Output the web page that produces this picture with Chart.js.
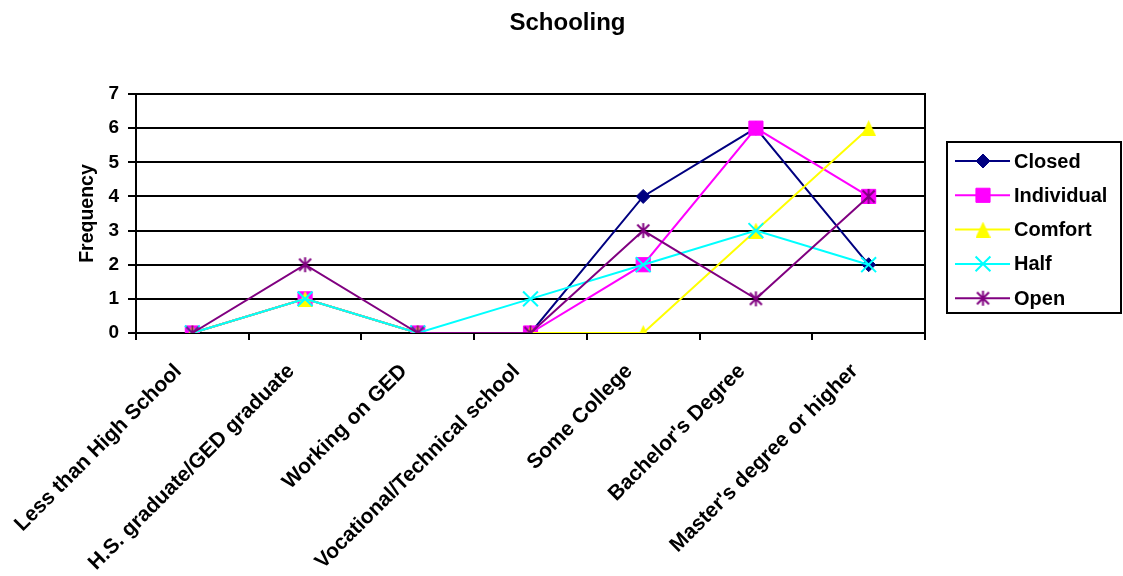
<!DOCTYPE html>
<html>
<head>
<meta charset="utf-8">
<title>Schooling</title>
<script src="https://cdn.jsdelivr.net/npm/chart.js@4/dist/chart.umd.min.js"></script>
<style>
  html, body { margin: 0; padding: 0; background: #fff; }
  canvas { display: block; }
</style>
</head>
<body>
<canvas id="chart" width="1123" height="576"></canvas>
<script>
// Education levels on the x axis
const categories = [
  'Less than High School',
  'H.S. graduate/GED graduate',
  'Working on GED',
  'Vocational/Technical school',
  'Some College',
  "Bachelor's Degree",
  "Master's degree or higher"
];

// Frequencies per group
const closedValues     = [0, 1, 0, 0, 4, 6, 2];
const individualValues = [0, 1, 0, 0, 2, 6, 4];
const comfortValues    = [0, 1, 0, 0, 0, 3, 6];
const halfValues       = [0, 1, 0, 1, 2, 3, 2];
const openValues       = [0, 2, 0, 0, 3, 1, 4];

const seriesNames = ['Closed', 'Individual', 'Comfort', 'Half', 'Open'];
const yTicks = [0, 1, 2, 3, 4, 5, 6, 7];

const FONT = "'Liberation Sans', Arial, sans-serif";

// Six-armed asterisk marker (vertical bar plus an X)
function makeAsterisk(color, size, lw) {
  const c = document.createElement('canvas');
  c.width = size; c.height = size;
  const g = c.getContext('2d');
  const m = size / 2, r = size / 2 - 1;
  const d = r * 0.8;
  g.strokeStyle = color;
  g.lineWidth = lw;
  g.beginPath();
  g.moveTo(m, m - r); g.lineTo(m, m + r);
  g.moveTo(m - d, m - d); g.lineTo(m + d, m + d);
  g.moveTo(m + d, m - d); g.lineTo(m - d, m + d);
  g.stroke();
  return c;
}

// Upright triangle marker, centred in its box
function makeTriangle(color, w, h) {
  const c = document.createElement('canvas');
  c.width = w; c.height = h;
  const g = c.getContext('2d');
  g.fillStyle = color;
  g.beginPath();
  g.moveTo(w / 2, 0);
  g.lineTo(w, h);
  g.lineTo(0, h);
  g.closePath();
  g.fill();
  return c;
}

const asterisk = makeAsterisk('#800080', 17, 2);
const triangle = makeTriangle('#FFFF00', 15, 16);

const styles = [
  { color: '#000080', pointStyle: 'rectRot',  radius: 7,    bw: 1 },
  { color: '#FF00FF', pointStyle: 'rect',     radius: 10,   bw: 1 },
  { color: '#FFFF00', pointStyle: triangle,   radius: 8,    bw: 1 },
  { color: '#00FFFF', pointStyle: 'crossRot', radius: 10.5, bw: 2 },
  { color: '#800080', pointStyle: asterisk,   radius: 8,    bw: 2 }
];
const values = [closedValues, individualValues, comfortValues, halfValues, openValues];

const datasets = seriesNames.map((name, i) => ({
  label: name,
  data: values[i],
  borderColor: styles[i].color,
  backgroundColor: styles[i].color,
  pointBackgroundColor: styles[i].color,
  pointBorderColor: styles[i].color,
  pointStyle: styles[i].pointStyle,
  pointRadius: styles[i].radius,
  pointHoverRadius: styles[i].radius,
  pointBorderWidth: styles[i].bw,
  borderWidth: 2,
  tension: 0,
  fill: false,
  order: seriesNames.length - i
}));

// Boxed legend with line + marker samples, drawn to the right of the plot
const boxLegend = {
  id: 'boxLegend',
  afterDraw(chart) {
    const ctx = chart.ctx;
    const area = chart.chartArea;
    const left = area.right + 22, top = 142, right = 1121, bottom = 313;
    ctx.save();
    ctx.strokeStyle = '#000';
    ctx.lineWidth = 2;
    ctx.strokeRect(left, top, right - left, bottom - top);
    const rowH = 34.3;
    seriesNames.forEach((name, i) => {
      const y = top + 19 + i * rowH;
      const s = styles[i];
      ctx.strokeStyle = s.color;
      ctx.lineWidth = 2;
      ctx.beginPath();
      ctx.moveTo(left + 8, y);
      ctx.lineTo(left + 63, y);
      ctx.stroke();
      ctx.fillStyle = s.color;
      ctx.strokeStyle = s.color;
      ctx.lineWidth = s.bw;
      Chart.helpers.drawPoint(ctx, {
        pointStyle: s.pointStyle, radius: s.radius, rotation: 0, borderWidth: s.bw
      }, left + 36, y);
      ctx.fillStyle = '#000';
      ctx.font = "bold 20px " + FONT;
      ctx.textBaseline = 'middle';
      ctx.textAlign = 'left';
      ctx.fillText(name, left + 67, y + 1);
    });
    ctx.restore();
  }
};

new Chart(document.getElementById('chart'), {
  type: 'line',
  data: { labels: categories, datasets },
  plugins: [boxLegend],
  options: {
    responsive: false,
    animation: false,
    devicePixelRatio: 1,
    layout: { padding: { left: 12, right: 0, top: 0, bottom: 0 } },
    plugins: {
      legend: { display: false },
      tooltip: { enabled: false },
      title: {
        display: true,
        text: 'Schooling',
        color: '#000',
        font: { family: FONT, size: 24, weight: 'bold', lineHeight: 1.2 },
        padding: { top: 9, bottom: 56.2 }
      }
    },
    scales: {
      x: {
        type: 'category',
        offset: true,
        afterFit(scale) { scale.height = 243; },
        grid: {
          offset: true,
          drawOnChartArea: false,
          drawTicks: true,
          tickLength: 7,
          color: '#000',
          lineWidth: 2
        },
        border: { display: true, color: '#000', width: 2 },
        ticks: {
          autoSkip: false,
          minRotation: 45,
          maxRotation: 45,
          padding: 19,
          labelOffset: -14,
          color: '#000',
          font: { family: FONT, size: 21, weight: 'bold' }
        }
      },
      y: {
        min: yTicks[0],
        max: yTicks[yTicks.length - 1],
        afterFit(scale) { scale.width = 124; },
        afterBuildTicks(scale) { scale.ticks = yTicks.map(v => ({ value: v })); },
        grid: {
          color: '#000',
          lineWidth: 2,
          drawTicks: true,
          tickLength: 8
        },
        border: { display: true, color: '#000', width: 2 },
        ticks: {
          padding: 9,
          color: '#000',
          font: { family: FONT, size: 19, weight: 'bold' }
        },
        title: {
          display: true,
          text: 'Frequency',
          color: '#000',
          font: { family: FONT, size: 19.5, weight: 'bold', lineHeight: 1.2 },
          padding: { top: 64, bottom: 0 }
        }
      },
      y2: {
        position: 'right',
        min: 0,
        max: 7,
        afterFit(scale) { scale.width = 198; },
        grid: { drawOnChartArea: false, drawTicks: false },
        border: { display: true, color: '#000', width: 2 },
        ticks: { display: false }
      }
    }
  }
});
</script>
</body>
</html>
